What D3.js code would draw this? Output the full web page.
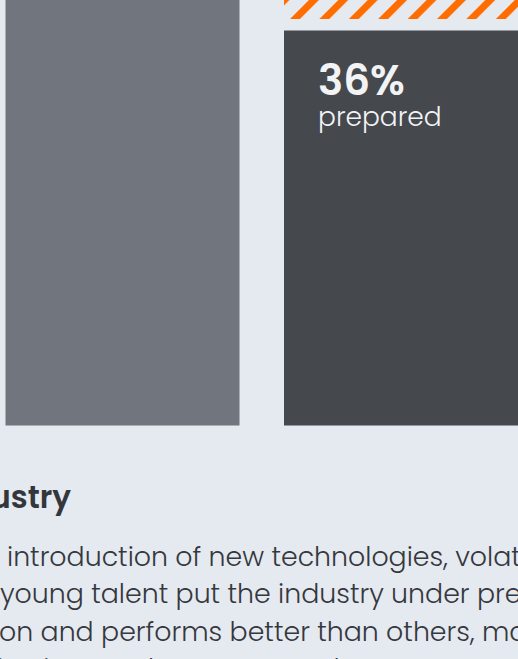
<!DOCTYPE html>
<html>
<head>
<meta charset="utf-8">
<script src="https://cdn.jsdelivr.net/npm/d3@7"></script>
<style>
  html, body { margin: 0; padding: 0; background: #e5e9f0; overflow: hidden; }
  svg { display: block; }
</style>
</head>
<body>
<script>
// ---- data ----
const categories = ["All respondents", "Prepared"];
const solidValues = [100, 36];
const hatchedValues = [0, 64];
const valueLabels = ["", "36%"];
const subLabels = ["", "prepared"];
const headingText = "Industry";
const bodyLines = [
  "introduction of new technologies, volatility",
  "young talent put the industry under pressure",
  "on and performs better than others, making",
  "its time and resources to better protect its"
];

// ---- layout ----
const W = 518, H = 659;
const FONT = "Poppins, 'Open Sans', sans-serif";
const svg = d3.select("body").append("svg").attr("width", W).attr("height", H);

svg.append("rect").attr("width", W).attr("height", H).attr("fill", "#e5e9f0");

const x = d3.scaleBand().domain(categories).range([5.5, 518])
  .paddingInner(44.5 / 278.5).paddingOuter(0);
const y = d3.scaleLinear().domain([0, 36]).range([425.5, 30.5]);
const gap = 11.5;

const defs = svg.append("defs");
const period = 29.4 / Math.SQRT2;
const pat = defs.append("pattern")
  .attr("id", "hatch")
  .attr("patternUnits", "userSpaceOnUse")
  .attr("width", period).attr("height", period)
  .attr("x", 10.6)
  .attr("patternTransform", "rotate(45)");
pat.append("rect").attr("width", period).attr("height", period).attr("fill", "#e5e9f0");
pat.append("rect").attr("width", 7).attr("height", period).attr("fill", "#ff6d00");

const barFill = ["#71767e", "#45484d"];
const data = categories.map((c, i) => ({
  c, solid: solidValues[i], hatched: hatchedValues[i], fill: barFill[i],
  label: valueLabels[i], sub: subLabels[i]
}));

svg.selectAll("rect.solid").data(data).join("rect")
  .attr("class", "solid")
  .attr("x", d => x(d.c))
  .attr("width", x.bandwidth())
  .attr("y", d => y(d.solid))
  .attr("height", d => y(0) - y(d.solid))
  .attr("fill", d => d.fill);

svg.selectAll("rect.hatched").data(data.filter(d => d.hatched > 0)).join("rect")
  .attr("class", "hatched")
  .attr("x", d => x(d.c))
  .attr("width", x.bandwidth())
  .attr("y", d => y(d.solid + d.hatched))
  .attr("height", d => (y(d.solid) - gap) - y(d.solid + d.hatched))
  .attr("fill", "url(#hatch)");

const lab = data.filter(d => d.label);
svg.selectAll("text.val").data(lab).join("text")
  .attr("class", "val")
  .attr("x", d => x(d.c) + 34)
  .attr("y", d => y(d.solid) + 64)
  .attr("fill", "#f2f3f5")
  .attr("font-family", FONT)
  .attr("font-weight", 600)
  .attr("font-size", 42)
  .text(d => d.label);
svg.selectAll("text.sub").data(lab).join("text")
  .attr("class", "sub")
  .attr("x", d => x(d.c) + 34)
  .attr("y", d => y(d.solid) + 95)
  .attr("fill", "#f2f3f5")
  .attr("font-family", FONT)
  .attr("font-weight", 300)
  .attr("font-size", 26.5)
  .text(d => d.sub);

// heading
svg.append("text")
  .attr("x", 71).attr("y", 508)
  .attr("text-anchor", "end")
  .attr("fill", "#33363b")
  .attr("font-family", FONT)
  .attr("font-weight", 600)
  .attr("font-size", 31)
  .text(headingText);

// body: fit font size so that line 1's visible part spans ~7..521
const probe = svg.append("text").attr("font-family", FONT).attr("font-size", 26)
  .attr("font-weight", 300)
  .text("introduction of new technologies, volat");
const w = probe.node().getComputedTextLength();
probe.remove();
const fs = 26 * 514 / w;
const lineX = [7, 0, -1, -3];
svg.selectAll("text.body").data(bodyLines).join("text")
  .attr("class", "body")
  .attr("x", (d, i) => lineX[i])
  .attr("y", (d, i) => 566 + i * 37.3)
  .attr("fill", "#35383d")
  .attr("font-family", FONT)
  .attr("font-weight", 300)
  .attr("font-size", fs)
  .text(d => d);
</script>
</body>
</html>
